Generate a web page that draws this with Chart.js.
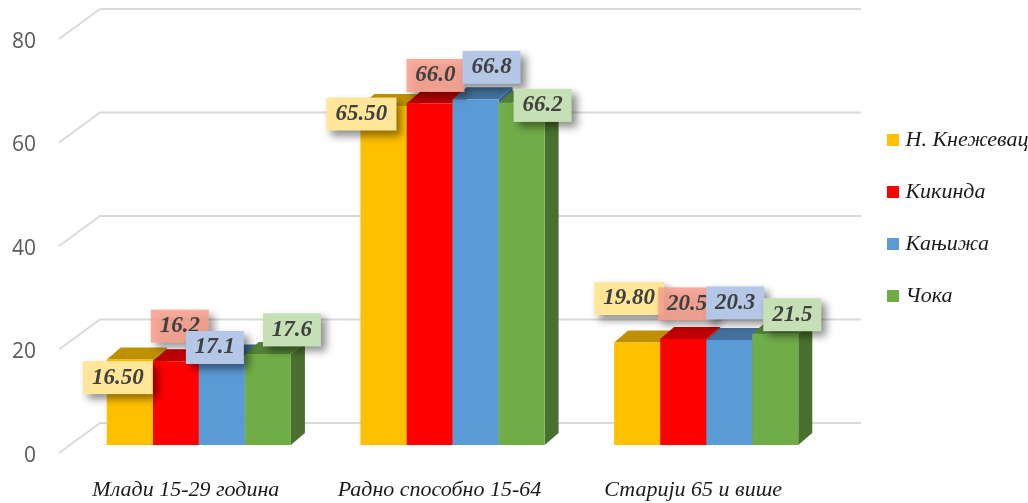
<!DOCTYPE html>
<html>
<head>
<meta charset="utf-8">
<title>Становништво по старосним групама</title>
<script src="https://cdn.jsdelivr.net/npm/chart.js@4/dist/chart.umd.js"></script>
<style>
  html, body { margin: 0; padding: 0; background: #fff; overflow: hidden; }
  canvas { display: block; }
</style>
</head>
<body>
<canvas id="chart" width="1028" height="503"></canvas>
<script>
// Values
const categories = ["Млади 15-29 година", "Радно способно 15-64", "Старији 65 и више"];
const seriesNames = ["Н. Кнежевац", "Кикинда", "Кањижа", "Чока"];
const knjazevac = [16.5, 65.5, 19.8];
const kikinda = [16.2, 66.0, 20.5];
const kanjiza = [17.1, 66.8, 20.3];
const coka = [17.6, 66.2, 21.5];
const tickValues = [0, 20, 40, 60, 80];

// Styling for the fake 3D look, one entry per series
const frontColors = ["#FFC000", "#FF0000", "#5B9BD5", "#70AD47"];
const topColors = ["#BF9000", "#C00000", "#41719C", "#548235"];
const sideColors = ["#A67D00", "#A00000", "#38618A", "#4A702F"];
const labelColors = ["#FFE699", "rgba(248,160,142,0.88)", "#B4C7E7", "#C5E0B4"];
const labelDecimals = [2, 1, 1, 1];

// Hand placed data labels in the original, offset from the bar's top centre
const labelNudges = [
  [[-12, 18], [-22, 8], [-8, -44]],
  [[4, -35], [6, -28], [4, -35]],
  [[-7, -9], [16, -32], [6, -37]],
  [[24, -24], [21, 3], [17, -19]]
];

const DEPTH_X = 14, DEPTH_Y = 12;

function polygon(ctx, points, color) {
  ctx.fillStyle = color;
  ctx.beginPath();
  points.forEach((p, i) => i ? ctx.lineTo(p[0], p[1]) : ctx.moveTo(p[0], p[1]));
  ctx.closePath();
  ctx.fill();
}

// Back wall gridlines with the slanted part going to the axis
const perspectiveGrid = {
  id: "perspectiveGrid",
  beforeDatasetsDraw(chart) {
    const ctx = chart.ctx, y = chart.scales.y;
    ctx.save();
    ctx.strokeStyle = "#D9D9D9";
    ctx.lineWidth = 2;
    tickValues.forEach(v => {
      const py = y.getPixelForValue(v);
      ctx.beginPath();
      ctx.moveTo(59, py + 8);
      ctx.lineTo(100, py - 22);
      ctx.lineTo(861, py - 22);
      ctx.stroke();
    });
    ctx.restore();
  }
};

// Tops and sides of the bars, taken from the bar elements
const barFaces = {
  id: "barFaces",
  beforeDatasetsDraw(chart) {
    const ctx = chart.ctx;
    chart.data.datasets.forEach((ds, i) => {
      chart.getDatasetMeta(i).data.forEach(bar => {
        const x0 = bar.x - bar.width / 2, x1 = bar.x + bar.width / 2;
        polygon(ctx, [[x1, bar.y], [x1 + DEPTH_X, bar.y - DEPTH_Y], [x1 + DEPTH_X, bar.base - DEPTH_Y], [x1, bar.base]], sideColors[i]);
        polygon(ctx, [[x0, bar.y], [x1, bar.y], [x1 + DEPTH_X, bar.y - DEPTH_Y], [x0 + DEPTH_X, bar.y - DEPTH_Y]], topColors[i]);
      });
    });
  }
};

const boxLabels = {
  id: "boxLabels",
  afterDatasetsDraw(chart) {
    const ctx = chart.ctx;
    chart.data.datasets.forEach((ds, i) => {
      chart.getDatasetMeta(i).data.forEach((bar, j) => {
        const text = ds.data[j].toFixed(labelDecimals[i]);
        const w = labelDecimals[i] === 2 ? 70 : 58, h = 33;
        const cx = bar.x + labelNudges[i][j][0], cy = bar.y + labelNudges[i][j][1];
        ctx.save();
        ctx.shadowColor = "rgba(0,0,0,0.45)";
        ctx.shadowBlur = 8;
        ctx.shadowOffsetX = 5;
        ctx.shadowOffsetY = 5;
        ctx.fillStyle = labelColors[i];
        ctx.fillRect(cx - w / 2, cy - h / 2, w, h);
        ctx.restore();
        ctx.save();
        ctx.font = "italic bold 23px 'Liberation Serif'";
        ctx.fillStyle = "#404040";
        ctx.textAlign = "center";
        ctx.textBaseline = "middle";
        ctx.fillText(text, cx, cy);
        ctx.restore();
      });
    });
  }
};

// The legend sits higher than the middle of the chart in the original,
// and its first entry runs off the right edge of the picture
const legendPlace = {
  id: "legendPlace",
  afterLayout(chart) {
    chart.legend.left = 861.5;
    chart.legend.right = 1060;
    chart.legend.top = 99;
  }
};

const seriesValues = [knjazevac, kikinda, kanjiza, coka];

new Chart(document.getElementById("chart"), {
  type: "bar",
  data: {
    labels: categories,
    datasets: seriesNames.map((name, i) => ({
      label: name,
      data: seriesValues[i],
      backgroundColor: frontColors[i],
      borderWidth: 0,
      barPercentage: 1,
      categoryPercentage: 0.726
    }))
  },
  options: {
    responsive: false,
    animation: false,
    layout: { autoPadding: false, padding: { top: 31, left: 0, right: 18, bottom: 0 } },
    scales: {
      x: {
        afterFit: scale => {
          scale.height = 58;
          scale.paddingLeft = 0;
          scale.paddingRight = 0;
        },
        grid: { display: false, drawTicks: false },
        border: { display: false },
        ticks: {
          autoSkip: false,
          maxRotation: 0,
          padding: 32,
          labelOffset: -13,
          color: "#1a1a1a",
          font: { family: "'Liberation Serif'", style: "italic", size: 22 }
        }
      },
      y: {
        min: 0,
        max: 80,
        afterFit: scale => {
          scale.width = 72;
          scale.paddingTop = 0;
          scale.paddingBottom = 0;
        },
        afterBuildTicks: scale => { scale.ticks = tickValues.map(v => ({ value: v })); },
        grid: { display: false, drawTicks: false },
        border: { display: false },
        ticks: {
          padding: 36,
          labelOffset: 11,
          color: "#595959",
          font: { family: "'Open Sans'", size: 21 }
        }
      }
    },
    plugins: {
      tooltip: { enabled: false },
      legend: {
        position: "right",
        align: "start",
        maxWidth: 195,
        labels: {
          boxWidth: 3,
          boxHeight: 3,
          padding: 30,
          color: "#1a1a1a",
          font: { family: "'Liberation Serif'", style: "italic", size: 22 },
          generateLabels(chart) {
            return Chart.defaults.plugins.legend.labels.generateLabels(chart).map((item, i) => {
              item.strokeStyle = frontColors[i];
              item.lineWidth = 9;
              return item;
            });
          }
        }
      }
    }
  },
  plugins: [perspectiveGrid, barFaces, boxLabels, legendPlace]
});
</script>
</body>
</html>
